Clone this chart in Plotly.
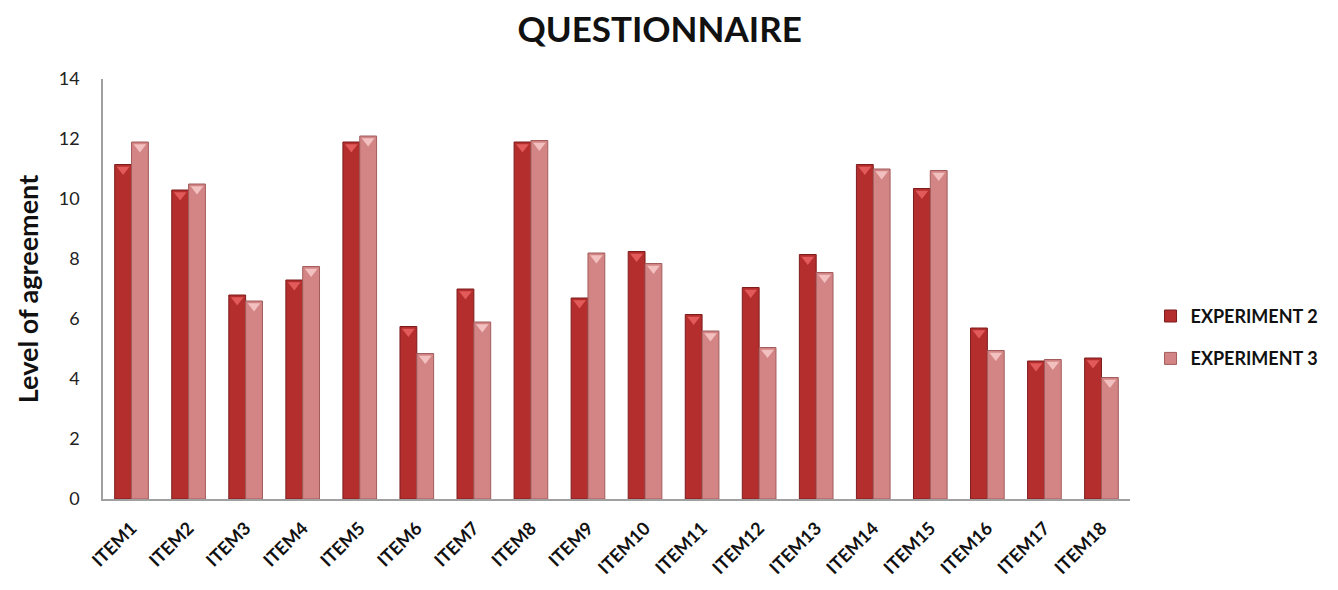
import plotly.graph_objects as go

items = [f"ITEM{i}" for i in range(1, 19)]
experiment2 = [11.15, 10.3, 6.8, 7.3, 11.9, 5.75, 7.0, 11.9, 6.7, 8.25,
               6.15, 7.05, 8.15, 11.15, 10.35, 5.7, 4.6, 4.7]
experiment3 = [11.9, 10.5, 6.6, 7.75, 12.1, 4.85, 5.9, 11.95, 8.2, 7.85,
               5.6, 5.05, 7.55, 11.0, 10.95, 4.95, 4.65, 4.05]
y_ticks = [0, 2, 4, 6, 8, 10, 12, 14]

series = [
    ("EXPERIMENT 2", experiment2, "#b42e2e", "#7e1c1c", "#e25a5a"),
    ("EXPERIMENT 3", experiment3, "#d38585", "#a25c5c", "#f3c0c0"),
]

fig = go.Figure()
for i, (name, vals, fill, edge, cap) in enumerate(series):
    fig.add_trace(go.Bar(
        x=items, y=vals, name=name, offsetgroup=str(i), legendgroup=name,
        marker=dict(color=fill, line=dict(color=edge, width=1)),
    ))
for i, (name, vals, fill, edge, cap) in enumerate(series):
    # small bevelled caps sitting just under each bar top
    fig.add_trace(go.Scatter(
        x=items, y=[v - 0.17 for v in vals], mode="markers",
        offsetgroup=str(i), showlegend=False, hoverinfo="skip",
        marker=dict(symbol="triangle-down", size=11, color=cap,
                    line=dict(width=0)),
    ))

fig.update_layout(
    width=1338, height=590,
    paper_bgcolor="white", plot_bgcolor="white",
    barmode="group", bargap=0.41, bargroupgap=0.0,
    scattermode="group", scattergap=0.41,
    margin=dict(l=103, r=208, t=79, b=91),
    font=dict(family="Lato, 'Open Sans', sans-serif", color="#222"),
    title=dict(text="<b>QUESTIONNAIRE</b>", x=0.493, xanchor="center",
               y=0.95, yanchor="middle",
               font=dict(size=35, color="#111")),
    legend=dict(x=1.02, xanchor="left", y=0.385, yanchor="middle",
                font=dict(size=18, color="#111", weight="bold"),
                tracegroupgap=16, itemwidth=30),
    showlegend=True,
)
fig.update_xaxes(
    showline=True, linecolor="#a0a0a0", linewidth=1.5,
    ticks="", tickangle=-45, ticklabelstandoff=10,
    tickfont=dict(size=18, color="#111", family="Lato, sans-serif", weight="bold"),
)
fig.update_yaxes(
    range=[0, 14], tickvals=y_ticks, showgrid=False, zeroline=False,
    showline=True, linecolor="#a0a0a0", linewidth=1.5, ticks="",
    ticklabelstandoff=18,
    tickfont=dict(size=18, color="#222"),
    title=dict(text="<b>Level of agreement</b>", standoff=12,
               font=dict(size=27, color="#111")),
)

fig.write_html("out.html")
